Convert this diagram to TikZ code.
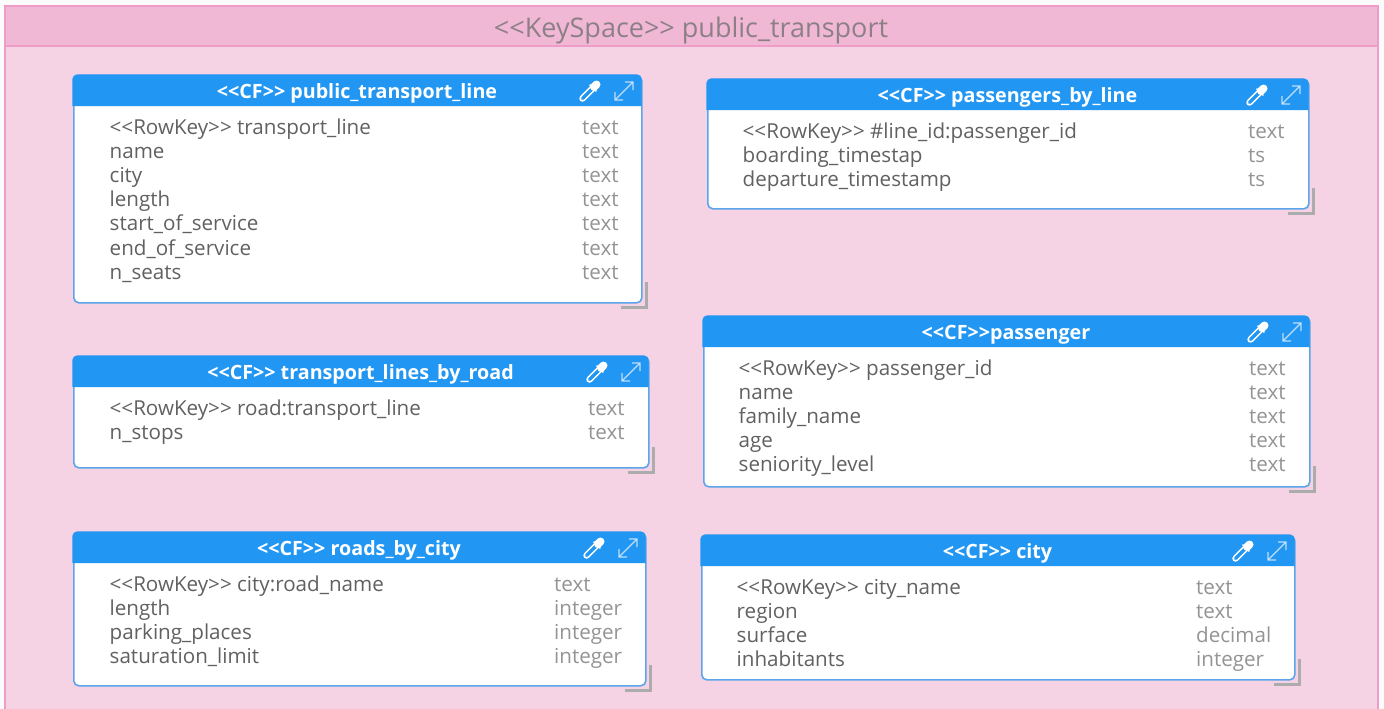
\documentclass[tikz,border=0pt]{standalone}
\usepackage{fontspec}
\newfontfamily\opensans{Open Sans}
\usetikzlibrary{calc, positioning}
\definecolor{Kscolor1}{RGB}{241,184,214}
\definecolor{Kscolor2}{RGB}{245,210,228}
\definecolor{Kscolor3}{RGB}{239,156,200}
\definecolor{Cfcolor1}{RGB}{33,150,243}
\definecolor{Cfcolor2}{RGB}{92,165,234}
\definecolor{Cfcolor3}{RGB}{190,222,250}

\newcommand\cfbox[6]{
  \node[cfbody, minimum width={#4-#2}, minimum height={#5-#3}] (#1) at (#2,#3) {};
  \fill[Cfcolor1] (#2-0.7,#3+31) [rounded corners=5pt] -- (#2-0.7,#3-0.7) -- (#4+0.7,#3-0.7)
    [sharp corners] -- (#4+0.7,#3+31) -- cycle;
  \node[cftitle] (#1T) at ({(#2+#4)/2},#3+23) {#6};
  \pic at (#4-51,#3+16) {cfdrop};
  \pic at (#4-17,#3+16) {cfexpand};
  \draw[cfmark] (#4-20,#5+5.5) -- (#4+5.5,#5+5.5) -- (#4+5.5,#5-20);
}
\newcommand\cfrows[5]{
  \foreach \rname/\rtype [count=\i] in {#5} {
    \node[rowname] (#1N\i) at (#2-0.5,#3+59+24.2*\i-24.2) {\rname};
    \node[rowtype] (#1V\i) at (#4,#3+59+24.2*\i-24.2) {\rtype};
  }
}

\begin{document}
\begin{tikzpicture}[
  x=1pt, y=-1pt,
  cfbody/.style={
    rectangle, rounded corners=5pt, anchor=north west,
    draw=Cfcolor2, line width=1.6pt, fill=white, inner sep=0pt
  },
  cftitle/.style={anchor=base, text=white, font=\opensans\fontsize{19.7}{22}\selectfont\bfseries},
  rowname/.style={anchor=base west, text=black!62, inner sep=0pt, font=\opensans\fontsize{20.6}{22}\selectfont},
  rowtype/.style={rowname, text=black!42},
  cfmark/.style={gray!65, line width=3pt},
  cfdrop/.pic={
    \draw[white, line width=6.5pt, line cap=round] (-7.5,7.5) -- (3,-3);
    \draw[Cfcolor1, line width=3.4pt, line cap=round] (-7.5,7.5) -- (2,-2);
    \draw[white, line width=8pt, line cap=round] (4,-4) -- (6.5,-6.5);
    \draw[white, line width=2pt, line cap=round] (0,-6) -- (6,0);
  },
  cfexpand/.pic={
    \draw[Cfcolor3, line width=1.1pt] (-9,9) -- (9,-9)
      (-9,1) -- (-9,9) -- (-1,9) (1,-9) -- (9,-9) -- (9,-1);
  }
]

%% ─────────────────────────────────────────────────────────
%% Fondo: coordenadas en pixeles, y hacia abajo
%% ─────────────────────────────────────────────────────────
\useasboundingbox (0,0) rectangle (1384,709);
\fill[white!97!gray] (0,0) rectangle (1384,709);
\fill[Kscolor2] (5,6) rectangle (1378,709);
\fill[Kscolor1] (5,6) rectangle (1378,46);
\draw[Kscolor3, line width=1.5pt] (5,709) -- (5,6) -- (1378,6) -- (1378,709);
\draw[Kscolor3, line width=1.5pt] (5,46) -- (1378,46);
\node[text=black!30!Kscolor1!30!gray, font=\opensans\fontsize{27}{30}\selectfont] (keyspace) at (691,30)
  {<<KeySpace>> public\_transport};

%% COLUMNA IZQUIERDA
\cfbox{line}{73}{75}{641}{302}{<<CF>> public\_transport\_line}
\cfrows{line}{110}{75}{582}{<<RowKey>> transport\_line/text, name/text, city/text, length/text,
  start\_of\_service/text, end\_of\_service/text, n\_seats/text}

\cfbox{road}{73}{356}{648}{467}{<<CF>> transport\_lines\_by\_road}
\cfrows{road}{110}{356}{588}{<<RowKey>> road:transport\_line/text, n\_stops/text}

\cfbox{roads}{73}{532}{645}{685}{<<CF>> roads\_by\_city}
\cfrows{roads}{110}{532}{554}{<<RowKey>> city:road\_name/text, length/integer,
  parking\_places/integer, saturation\_limit/integer}

%% COLUMNA DERECHA
\cfbox{pline}{707}{79}{1308}{208}{<<CF>> passengers\_by\_line}
\cfrows{pline}{743}{79}{1248}{<<RowKey>> \#line\_id:passenger\_id/text,
  boarding\_timestap/ts, departure\_timestamp/ts}

\cfbox{pass}{703}{316}{1309}{486}{<<CF>>passenger}
\cfrows{pass}{739}{316}{1249}{<<RowKey>> passenger\_id/text, name/text, family\_name/text,
  age/text, seniority\_level/text}

\cfbox{city}{701}{535}{1294}{679}{<<CF>> city}
\cfrows{city}{737}{535}{1196}{<<RowKey>> city\_name/text, region/text,
  surface/decimal, inhabitants/integer}

\end{tikzpicture}
\end{document}
